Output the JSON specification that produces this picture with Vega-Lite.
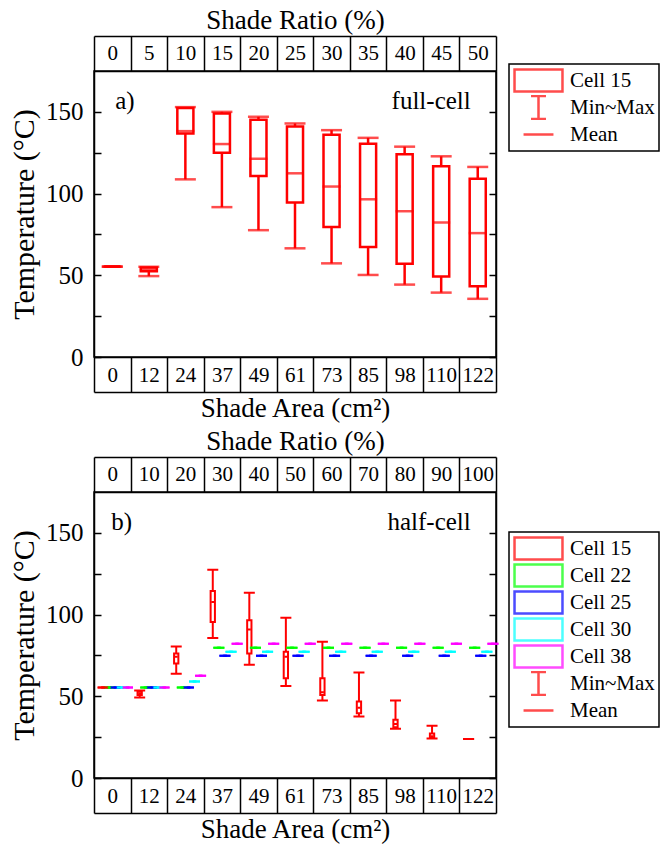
{
  "$schema": "https://vega.github.io/schema/vega-lite/v6.json",
  "padding": {"left": 8, "top": 5, "right": 2, "bottom": 2},
  "spacing": 4,
  "datasets": {
    "a": [
      {"area": 0, "ratio": 0, "min": 55.3, "q1": 55.3, "mean": 55.3, "q3": 55.3, "max": 55.3},
      {"area": 12, "ratio": 5, "min": 49.5, "q1": 52.5, "mean": 53.5, "q3": 54.8, "max": 55.2},
      {"area": 24, "ratio": 10, "min": 108.7, "q1": 136.8, "mean": 138.2, "q3": 152.4, "max": 152.9},
      {"area": 37, "ratio": 15, "min": 91.7, "q1": 125.0, "mean": 130.3, "q3": 149.0, "max": 150.0},
      {"area": 49, "ratio": 20, "min": 77.6, "q1": 110.8, "mean": 121.3, "q3": 145.1, "max": 147.0},
      {"area": 61, "ratio": 25, "min": 66.5, "q1": 94.5, "mean": 112.4, "q3": 141.0, "max": 142.9},
      {"area": 73, "ratio": 30, "min": 57.3, "q1": 79.5, "mean": 104.3, "q3": 136.0, "max": 138.8},
      {"area": 85, "ratio": 35, "min": 50.2, "q1": 67.3, "mean": 96.5, "q3": 130.5, "max": 134.1},
      {"area": 98, "ratio": 40, "min": 44.3, "q1": 57.1, "mean": 89.2, "q3": 124.0, "max": 128.7},
      {"area": 110, "ratio": 45, "min": 39.4, "q1": 49.2, "mean": 82.3, "q3": 116.7, "max": 122.8},
      {"area": 122, "ratio": 50, "min": 35.6, "q1": 43.3, "mean": 75.8, "q3": 109.0, "max": 116.3}
    ],
    "b": [
      {"cell": "Cell 22", "area": 0, "ratio": 0, "min": 55.3, "q1": 55.3, "mean": 55.3, "q3": 55.3, "max": 55.3},
      {"cell": "Cell 22", "area": 12, "ratio": 10, "min": 55.3, "q1": 55.3, "mean": 55.3, "q3": 55.3, "max": 55.3},
      {"cell": "Cell 22", "area": 24, "ratio": 20, "min": 55.3, "q1": 55.3, "mean": 55.3, "q3": 55.3, "max": 55.3},
      {"cell": "Cell 22", "area": 37, "ratio": 30, "min": 79.7, "q1": 79.7, "mean": 79.7, "q3": 79.7, "max": 79.7},
      {"cell": "Cell 22", "area": 49, "ratio": 40, "min": 79.7, "q1": 79.7, "mean": 79.7, "q3": 79.7, "max": 79.7},
      {"cell": "Cell 22", "area": 61, "ratio": 50, "min": 79.7, "q1": 79.7, "mean": 79.7, "q3": 79.7, "max": 79.7},
      {"cell": "Cell 22", "area": 73, "ratio": 60, "min": 79.7, "q1": 79.7, "mean": 79.7, "q3": 79.7, "max": 79.7},
      {"cell": "Cell 22", "area": 85, "ratio": 70, "min": 79.7, "q1": 79.7, "mean": 79.7, "q3": 79.7, "max": 79.7},
      {"cell": "Cell 22", "area": 98, "ratio": 80, "min": 79.7, "q1": 79.7, "mean": 79.7, "q3": 79.7, "max": 79.7},
      {"cell": "Cell 22", "area": 110, "ratio": 90, "min": 79.7, "q1": 79.7, "mean": 79.7, "q3": 79.7, "max": 79.7},
      {"cell": "Cell 22", "area": 122, "ratio": 100, "min": 79.7, "q1": 79.7, "mean": 79.7, "q3": 79.7, "max": 79.7},
      {"cell": "Cell 25", "area": 0, "ratio": 0, "min": 55.3, "q1": 55.3, "mean": 55.3, "q3": 55.3, "max": 55.3},
      {"cell": "Cell 25", "area": 12, "ratio": 10, "min": 55.3, "q1": 55.3, "mean": 55.3, "q3": 55.3, "max": 55.3},
      {"cell": "Cell 25", "area": 24, "ratio": 20, "min": 55.3, "q1": 55.3, "mean": 55.3, "q3": 55.3, "max": 55.3},
      {"cell": "Cell 25", "area": 37, "ratio": 30, "min": 74.8, "q1": 74.8, "mean": 74.8, "q3": 74.8, "max": 74.8},
      {"cell": "Cell 25", "area": 49, "ratio": 40, "min": 74.8, "q1": 74.8, "mean": 74.8, "q3": 74.8, "max": 74.8},
      {"cell": "Cell 25", "area": 61, "ratio": 50, "min": 74.8, "q1": 74.8, "mean": 74.8, "q3": 74.8, "max": 74.8},
      {"cell": "Cell 25", "area": 73, "ratio": 60, "min": 74.8, "q1": 74.8, "mean": 74.8, "q3": 74.8, "max": 74.8},
      {"cell": "Cell 25", "area": 85, "ratio": 70, "min": 74.8, "q1": 74.8, "mean": 74.8, "q3": 74.8, "max": 74.8},
      {"cell": "Cell 25", "area": 98, "ratio": 80, "min": 74.8, "q1": 74.8, "mean": 74.8, "q3": 74.8, "max": 74.8},
      {"cell": "Cell 25", "area": 110, "ratio": 90, "min": 74.8, "q1": 74.8, "mean": 74.8, "q3": 74.8, "max": 74.8},
      {"cell": "Cell 25", "area": 122, "ratio": 100, "min": 74.8, "q1": 74.8, "mean": 74.8, "q3": 74.8, "max": 74.8},
      {"cell": "Cell 30", "area": 0, "ratio": 0, "min": 55.3, "q1": 55.3, "mean": 55.3, "q3": 55.3, "max": 55.3},
      {"cell": "Cell 30", "area": 12, "ratio": 10, "min": 55.3, "q1": 55.3, "mean": 55.3, "q3": 55.3, "max": 55.3},
      {"cell": "Cell 30", "area": 24, "ratio": 20, "min": 59.0, "q1": 59.0, "mean": 59.0, "q3": 59.0, "max": 59.0},
      {"cell": "Cell 30", "area": 37, "ratio": 30, "min": 77.2, "q1": 77.2, "mean": 77.2, "q3": 77.2, "max": 77.2},
      {"cell": "Cell 30", "area": 49, "ratio": 40, "min": 77.2, "q1": 77.2, "mean": 77.2, "q3": 77.2, "max": 77.2},
      {"cell": "Cell 30", "area": 61, "ratio": 50, "min": 77.2, "q1": 77.2, "mean": 77.2, "q3": 77.2, "max": 77.2},
      {"cell": "Cell 30", "area": 73, "ratio": 60, "min": 77.2, "q1": 77.2, "mean": 77.2, "q3": 77.2, "max": 77.2},
      {"cell": "Cell 30", "area": 85, "ratio": 70, "min": 77.2, "q1": 77.2, "mean": 77.2, "q3": 77.2, "max": 77.2},
      {"cell": "Cell 30", "area": 98, "ratio": 80, "min": 77.2, "q1": 77.2, "mean": 77.2, "q3": 77.2, "max": 77.2},
      {"cell": "Cell 30", "area": 110, "ratio": 90, "min": 77.2, "q1": 77.2, "mean": 77.2, "q3": 77.2, "max": 77.2},
      {"cell": "Cell 30", "area": 122, "ratio": 100, "min": 77.2, "q1": 77.2, "mean": 77.2, "q3": 77.2, "max": 77.2},
      {"cell": "Cell 38", "area": 0, "ratio": 0, "min": 55.3, "q1": 55.3, "mean": 55.3, "q3": 55.3, "max": 55.3},
      {"cell": "Cell 38", "area": 12, "ratio": 10, "min": 55.3, "q1": 55.3, "mean": 55.3, "q3": 55.3, "max": 55.3},
      {"cell": "Cell 38", "area": 24, "ratio": 20, "min": 62.6, "q1": 62.6, "mean": 62.6, "q3": 62.6, "max": 62.6},
      {"cell": "Cell 38", "area": 37, "ratio": 30, "min": 82.1, "q1": 82.1, "mean": 82.1, "q3": 82.1, "max": 82.1},
      {"cell": "Cell 38", "area": 49, "ratio": 40, "min": 82.1, "q1": 82.1, "mean": 82.1, "q3": 82.1, "max": 82.1},
      {"cell": "Cell 38", "area": 61, "ratio": 50, "min": 82.1, "q1": 82.1, "mean": 82.1, "q3": 82.1, "max": 82.1},
      {"cell": "Cell 38", "area": 73, "ratio": 60, "min": 82.1, "q1": 82.1, "mean": 82.1, "q3": 82.1, "max": 82.1},
      {"cell": "Cell 38", "area": 85, "ratio": 70, "min": 82.1, "q1": 82.1, "mean": 82.1, "q3": 82.1, "max": 82.1},
      {"cell": "Cell 38", "area": 98, "ratio": 80, "min": 82.1, "q1": 82.1, "mean": 82.1, "q3": 82.1, "max": 82.1},
      {"cell": "Cell 38", "area": 110, "ratio": 90, "min": 82.1, "q1": 82.1, "mean": 82.1, "q3": 82.1, "max": 82.1},
      {"cell": "Cell 38", "area": 122, "ratio": 100, "min": 82.1, "q1": 82.1, "mean": 82.1, "q3": 82.1, "max": 82.1},
      {"cell": "Cell 15", "area": 0, "ratio": 0, "min": 55.3, "q1": 55.3, "mean": 55.3, "q3": 55.3, "max": 55.3},
      {"cell": "Cell 15", "area": 12, "ratio": 10, "min": 49.2, "q1": 50.8, "mean": 51.8, "q3": 53.0, "max": 53.5},
      {"cell": "Cell 15", "area": 24, "ratio": 20, "min": 63.8, "q1": 70.1, "mean": 74.2, "q3": 76.2, "max": 80.5},
      {"cell": "Cell 15", "area": 37, "ratio": 30, "min": 85.6, "q1": 95.5, "mean": 107.7, "q3": 114.4, "max": 127.4},
      {"cell": "Cell 15", "area": 49, "ratio": 40, "min": 69.3, "q1": 76.2, "mean": 90.9, "q3": 96.5, "max": 113.4},
      {"cell": "Cell 15", "area": 61, "ratio": 50, "min": 56.3, "q1": 61.0, "mean": 74.2, "q3": 77.2, "max": 98.0},
      {"cell": "Cell 15", "area": 73, "ratio": 60, "min": 47.4, "q1": 50.8, "mean": 52.5, "q3": 61.0, "max": 83.3},
      {"cell": "Cell 15", "area": 85, "ratio": 70, "min": 37.6, "q1": 39.6, "mean": 43.0, "q3": 46.8, "max": 64.6},
      {"cell": "Cell 15", "area": 98, "ratio": 80, "min": 30.1, "q1": 31.1, "mean": 33.0, "q3": 35.6, "max": 47.4},
      {"cell": "Cell 15", "area": 110, "ratio": 90, "min": 24.2, "q1": 24.6, "mean": 25.5, "q3": 27.2, "max": 31.9},
      {"cell": "Cell 15", "area": 122, "ratio": 100, "min": 23.8, "q1": 23.8, "mean": 23.8, "q3": 23.8, "max": 23.8}
    ]
  },
  "vconcat": [
    {
      "width": 402,
      "height": 286,
      "data": {"name": "a"},
      "layer": [
        {"mark": {"type": "rule", "color": "#ff0000", "strokeWidth": 2.5},
         "encoding": {"x": {"field": "area", "type": "ordinal", "scale": {"paddingInner": 0, "paddingOuter": 0}, "axis": null},
                      "y": {"field": "min", "type": "quantitative", "scale": {"domain": [0, 175], "nice": false}, "axis": null}, "y2": {"field": "q1"}}},
        {"mark": {"type": "rule", "color": "#ff0000", "strokeWidth": 2.5},
         "encoding": {"x": {"field": "area", "type": "ordinal", "scale": {"paddingInner": 0, "paddingOuter": 0}, "axis": null},
                      "y": {"field": "q3", "type": "quantitative", "scale": {"domain": [0, 175], "nice": false}, "axis": null}, "y2": {"field": "max"}}},
        {"mark": {"type": "bar", "filled": false, "color": "#ff0000", "strokeWidth": 2.5, "width": {"band": 0.44}},
         "encoding": {"x": {"field": "area", "type": "ordinal", "scale": {"paddingInner": 0, "paddingOuter": 0}, "axis": null},
                      "y": {"field": "q1", "type": "quantitative", "scale": {"domain": [0, 175], "nice": false}, "axis": null}, "y2": {"field": "q3"}}},
        {"mark": {"type": "tick", "color": "#ff0000", "thickness": 2.5, "size": 21},
         "encoding": {"x": {"field": "area", "type": "ordinal", "scale": {"paddingInner": 0, "paddingOuter": 0}, "axis": null},
                      "y": {"field": "min", "type": "quantitative", "scale": {"domain": [0, 175], "nice": false}, "axis": null}}},
        {"mark": {"type": "tick", "color": "#ff0000", "thickness": 2.5, "size": 21},
         "encoding": {"x": {"field": "area", "type": "ordinal", "scale": {"paddingInner": 0, "paddingOuter": 0}, "axis": null},
                      "y": {"field": "max", "type": "quantitative", "scale": {"domain": [0, 175], "nice": false}, "axis": null}}},
        {"mark": {"type": "tick", "color": "#ff0000", "thickness": 2.5, "size": 18},
         "encoding": {"x": {"field": "area", "type": "ordinal", "scale": {"paddingInner": 0, "paddingOuter": 0}, "axis": null},
                      "y": {"field": "mean", "type": "quantitative", "scale": {"domain": [0, 175], "nice": false}, "axis": null}}},
        {"data": {"values": [{"note": "a)", "area": 0, "v": 152}]},
         "mark": {"type": "text", "align": "left", "baseline": "alphabetic", "fontSize": 25, "color": "black", "dx": 3},
         "encoding": {"x": {"field": "area", "type": "ordinal", "scale": {"domain": [0, 12, 24, 37, 49, 61, 73, 85, 98, 110, 122], "paddingInner": 0, "paddingOuter": 0}, "axis": null},
                      "y": {"field": "v", "type": "quantitative", "scale": {"domain": [0, 175], "nice": false}, "axis": null},
                      "text": {"field": "note"}}},
        {"data": {"values": [{"note": "full-cell", "area": 122, "v": 152}]},
         "mark": {"type": "text", "align": "right", "baseline": "alphabetic", "fontSize": 25, "color": "black", "dx": -7},
         "encoding": {"x": {"field": "area", "type": "ordinal", "scale": {"domain": [0, 12, 24, 37, 49, 61, 73, 85, 98, 110, 122], "paddingInner": 0, "paddingOuter": 0}, "axis": null},
                      "y": {"field": "v", "type": "quantitative", "scale": {"domain": [0, 175], "nice": false}, "axis": null},
                      "text": {"field": "note"}}},
        {"mark": {"type": "point", "opacity": 0},
         "encoding": {"x": {"field": "area", "type": "ordinal", "scale": {"paddingInner": 0, "paddingOuter": 0},
           "axis": {"orient": "bottom", "tickBand": "extent", "tickSize": 35, "labelPadding": -17, "labelBaseline": "middle", "labelAngle": 0, "labelFontSize": 21, "title": null}},
           "y": {"field": "mean", "type": "quantitative", "scale": {"domain": [0, 175], "nice": false}, "axis": null}}},
        {"mark": {"type": "point", "opacity": 0},
         "encoding": {"x": {"field": "area", "type": "ordinal", "scale": {"paddingInner": 0, "paddingOuter": 0},
           "axis": {"orient": "bottom", "offset": 35, "ticks": false, "labels": false, "title": "Shade Area (cm²)", "titleFontSize": 27, "titlePadding": 3}},
           "y": {"field": "mean", "type": "quantitative", "scale": {"domain": [0, 175], "nice": false}, "axis": null}}},
        {"mark": {"type": "point", "opacity": 0},
         "encoding": {"x": {"field": "ratio", "type": "ordinal", "scale": {"paddingInner": 0, "paddingOuter": 0},
           "axis": {"orient": "top", "tickBand": "extent", "tickSize": 35, "labelPadding": -17, "labelBaseline": "middle", "labelAngle": 0, "labelFontSize": 21, "title": null}},
           "y": {"field": "mean", "type": "quantitative", "scale": {"domain": [0, 175], "nice": false}, "axis": null}}},
        {"mark": {"type": "point", "opacity": 0},
         "encoding": {"x": {"field": "ratio", "type": "ordinal", "scale": {"paddingInner": 0, "paddingOuter": 0},
           "axis": {"orient": "top", "offset": 35, "ticks": false, "labels": false, "title": "Shade Ratio (%)", "titleFontSize": 27, "titlePadding": 2}},
           "y": {"field": "mean", "type": "quantitative", "scale": {"domain": [0, 175], "nice": false}, "axis": null}}},
        {"mark": {"type": "point", "opacity": 0},
         "encoding": {"x": {"field": "area", "type": "ordinal", "scale": {"paddingInner": 0, "paddingOuter": 0}, "axis": null},
           "y": {"field": "mean", "type": "quantitative", "scale": {"domain": [0, 175], "nice": false},
           "axis": {"orient": "left", "values": [0, 25, 50, 75, 100, 125, 150], "labelExpr": "datum.value % 50 === 0 ? datum.label : ''", "tickSize": -7, "labelPadding": 18, "labelFontSize": 25, "title": "Temperature (°C)", "titleFontSize": 30, "titlePadding": 6}}}},
        {"mark": {"type": "point", "opacity": 0},
         "encoding": {"x": {"field": "area", "type": "ordinal", "scale": {"paddingInner": 0, "paddingOuter": 0}, "axis": null},
           "y": {"field": "mean", "type": "quantitative", "scale": {"domain": [0, 175], "nice": false},
           "axis": {"orient": "right", "values": [0, 25, 50, 75, 100, 125, 150], "labels": false, "tickSize": -7, "title": null}}}},
        {"data": {"values": [{"entry": "Cell 15"}, {"entry": "Min~Max"}, {"entry": "Mean"}]},
         "mark": {"type": "point", "filled": false, "clip": true},
         "encoding": {
           "y": {"datum": -100, "type": "quantitative", "scale": {"domain": [0, 175], "nice": false}, "axis": null},
           "stroke": {"field": "entry", "type": "nominal",
             "scale": {"domain": ["Cell 15", "Min~Max", "Mean"], "range": ["#ff0000", "#ff0000", "#ff0000"]},
             "legend": {"orient": "none", "legendX": 415, "legendY": -7, "title": null}},
           "shape": {"field": "entry", "type": "nominal",
             "scale": {"domain": ["Cell 15", "Min~Max", "Mean"], "range": ["M-2.18,-1H2.18V1H-2.18Z", "M-0.68,-1.05H0.68M0,-1.05V1.05M-0.68,1.05H0.68", "M-1.36,0H1.36"]},
             "legend": {"orient": "none", "legendX": 415, "legendY": -7, "title": null}}}}
      ],
      "resolve": {"scale": {"x": "independent", "y": "independent"}}
    },
    {
      "width": 402,
      "height": 286,
      "data": {"name": "b"},
      "layer": [
        {"mark": {"type": "bar", "width": 2},
         "encoding": {"x": {"field": "area", "type": "ordinal", "scale": {"paddingInner": 0, "paddingOuter": 0}, "axis": null},
                      "xOffset": {"field": "cell", "type": "nominal", "scale": {"domain": ["Cell 15", "Cell 22", "Cell 25", "Cell 30", "Cell 38"], "paddingInner": 0, "paddingOuter": 0.5, "align": 1}},
                      "color": {"field": "cell", "type": "nominal", "scale": {"domain": ["Cell 15", "Cell 22", "Cell 25", "Cell 30", "Cell 38"], "range": ["#ff0000", "#00ff00", "#0000ff", "#00ffff", "#ff00ff"]}, "legend": null},
                      "y": {"field": "min", "type": "quantitative", "scale": {"domain": [0, 175], "nice": false}, "axis": null}, "y2": {"field": "q1"}}},
        {"mark": {"type": "bar", "width": 2},
         "encoding": {"x": {"field": "area", "type": "ordinal", "scale": {"paddingInner": 0, "paddingOuter": 0}, "axis": null},
                      "xOffset": {"field": "cell", "type": "nominal", "scale": {"domain": ["Cell 15", "Cell 22", "Cell 25", "Cell 30", "Cell 38"], "paddingInner": 0, "paddingOuter": 0.5, "align": 1}},
                      "color": {"field": "cell", "type": "nominal", "legend": null},
                      "y": {"field": "q3", "type": "quantitative", "scale": {"domain": [0, 175], "nice": false}, "axis": null}, "y2": {"field": "max"}}},
        {"mark": {"type": "bar", "filled": false, "strokeWidth": 2, "width": 4.3},
         "encoding": {"x": {"field": "area", "type": "ordinal", "scale": {"paddingInner": 0, "paddingOuter": 0}, "axis": null},
                      "xOffset": {"field": "cell", "type": "nominal", "scale": {"domain": ["Cell 15", "Cell 22", "Cell 25", "Cell 30", "Cell 38"], "paddingInner": 0, "paddingOuter": 0.5, "align": 1}},
                      "color": {"field": "cell", "type": "nominal", "legend": null},
                      "y": {"field": "q1", "type": "quantitative", "scale": {"domain": [0, 175], "nice": false}, "axis": null}, "y2": {"field": "q3"}}},
        {"mark": {"type": "bar", "filled": false, "strokeWidth": 2, "width": 11},
         "encoding": {"x": {"field": "area", "type": "ordinal", "scale": {"paddingInner": 0, "paddingOuter": 0}, "axis": null},
                      "xOffset": {"field": "cell", "type": "nominal", "scale": {"domain": ["Cell 15", "Cell 22", "Cell 25", "Cell 30", "Cell 38"], "paddingInner": 0, "paddingOuter": 0.5, "align": 1}},
                      "color": {"field": "cell", "type": "nominal", "legend": null},
                      "y": {"field": "min", "type": "quantitative", "scale": {"domain": [0, 175], "nice": false}, "axis": null}, "y2": {"field": "min"}}},
        {"mark": {"type": "bar", "filled": false, "strokeWidth": 2, "width": 11},
         "encoding": {"x": {"field": "area", "type": "ordinal", "scale": {"paddingInner": 0, "paddingOuter": 0}, "axis": null},
                      "xOffset": {"field": "cell", "type": "nominal", "scale": {"domain": ["Cell 15", "Cell 22", "Cell 25", "Cell 30", "Cell 38"], "paddingInner": 0, "paddingOuter": 0.5, "align": 1}},
                      "color": {"field": "cell", "type": "nominal", "legend": null},
                      "y": {"field": "max", "type": "quantitative", "scale": {"domain": [0, 175], "nice": false}, "axis": null}, "y2": {"field": "max"}}},
        {"mark": {"type": "bar", "filled": false, "strokeWidth": 2, "width": 3},
         "encoding": {"x": {"field": "area", "type": "ordinal", "scale": {"paddingInner": 0, "paddingOuter": 0}, "axis": null},
                      "xOffset": {"field": "cell", "type": "nominal", "scale": {"domain": ["Cell 15", "Cell 22", "Cell 25", "Cell 30", "Cell 38"], "paddingInner": 0, "paddingOuter": 0.5, "align": 1}},
                      "color": {"field": "cell", "type": "nominal", "legend": null},
                      "y": {"field": "mean", "type": "quantitative", "scale": {"domain": [0, 175], "nice": false}, "axis": null}, "y2": {"field": "mean"}}},
        {"data": {"values": [{"note": "b)", "area": 0, "v": 152}]},
         "mark": {"type": "text", "align": "left", "baseline": "alphabetic", "fontSize": 25, "color": "black", "dx": -1},
         "encoding": {"x": {"field": "area", "type": "ordinal", "scale": {"domain": [0, 12, 24, 37, 49, 61, 73, 85, 98, 110, 122], "paddingInner": 0, "paddingOuter": 0}, "axis": null},
                      "y": {"field": "v", "type": "quantitative", "scale": {"domain": [0, 175], "nice": false}, "axis": null},
                      "text": {"field": "note"}}},
        {"data": {"values": [{"note": "half-cell", "area": 122, "v": 152}]},
         "mark": {"type": "text", "align": "right", "baseline": "alphabetic", "fontSize": 25, "color": "black", "dx": -7},
         "encoding": {"x": {"field": "area", "type": "ordinal", "scale": {"domain": [0, 12, 24, 37, 49, 61, 73, 85, 98, 110, 122], "paddingInner": 0, "paddingOuter": 0}, "axis": null},
                      "y": {"field": "v", "type": "quantitative", "scale": {"domain": [0, 175], "nice": false}, "axis": null},
                      "text": {"field": "note"}}},
        {"mark": {"type": "point", "opacity": 0},
         "encoding": {"x": {"field": "area", "type": "ordinal", "scale": {"paddingInner": 0, "paddingOuter": 0},
           "axis": {"orient": "bottom", "tickBand": "extent", "tickSize": 35, "labelPadding": -17, "labelBaseline": "middle", "labelAngle": 0, "labelFontSize": 21, "title": null}},
           "y": {"field": "mean", "type": "quantitative", "scale": {"domain": [0, 175], "nice": false}, "axis": null}}},
        {"mark": {"type": "point", "opacity": 0},
         "encoding": {"x": {"field": "area", "type": "ordinal", "scale": {"paddingInner": 0, "paddingOuter": 0},
           "axis": {"orient": "bottom", "offset": 35, "ticks": false, "labels": false, "title": "Shade Area (cm²)", "titleFontSize": 27, "titlePadding": 3}},
           "y": {"field": "mean", "type": "quantitative", "scale": {"domain": [0, 175], "nice": false}, "axis": null}}},
        {"mark": {"type": "point", "opacity": 0},
         "encoding": {"x": {"field": "ratio", "type": "ordinal", "scale": {"paddingInner": 0, "paddingOuter": 0},
           "axis": {"orient": "top", "tickBand": "extent", "tickSize": 35, "labelPadding": -17, "labelBaseline": "middle", "labelAngle": 0, "labelFontSize": 21, "title": null}},
           "y": {"field": "mean", "type": "quantitative", "scale": {"domain": [0, 175], "nice": false}, "axis": null}}},
        {"mark": {"type": "point", "opacity": 0},
         "encoding": {"x": {"field": "ratio", "type": "ordinal", "scale": {"paddingInner": 0, "paddingOuter": 0},
           "axis": {"orient": "top", "offset": 35, "ticks": false, "labels": false, "title": "Shade Ratio (%)", "titleFontSize": 27, "titlePadding": 2}},
           "y": {"field": "mean", "type": "quantitative", "scale": {"domain": [0, 175], "nice": false}, "axis": null}}},
        {"mark": {"type": "point", "opacity": 0},
         "encoding": {"x": {"field": "area", "type": "ordinal", "scale": {"paddingInner": 0, "paddingOuter": 0}, "axis": null},
           "y": {"field": "mean", "type": "quantitative", "scale": {"domain": [0, 175], "nice": false},
           "axis": {"orient": "left", "values": [0, 25, 50, 75, 100, 125, 150], "labelExpr": "datum.value % 50 === 0 ? datum.label : ''", "tickSize": -7, "labelPadding": 18, "labelFontSize": 25, "title": "Temperature (°C)", "titleFontSize": 30, "titlePadding": 6}}}},
        {"mark": {"type": "point", "opacity": 0},
         "encoding": {"x": {"field": "area", "type": "ordinal", "scale": {"paddingInner": 0, "paddingOuter": 0}, "axis": null},
           "y": {"field": "mean", "type": "quantitative", "scale": {"domain": [0, 175], "nice": false},
           "axis": {"orient": "right", "values": [0, 25, 50, 75, 100, 125, 150], "labels": false, "tickSize": -7, "title": null}}}},
        {"data": {"values": [{"entry": "Cell 15"}, {"entry": "Cell 22"}, {"entry": "Cell 25"}, {"entry": "Cell 30"}, {"entry": "Cell 38"}, {"entry": "Min~Max"}, {"entry": "Mean"}]},
         "mark": {"type": "point", "filled": false, "clip": true},
         "encoding": {
           "y": {"datum": -100, "type": "quantitative", "scale": {"domain": [0, 175], "nice": false}, "axis": null},
           "stroke": {"field": "entry", "type": "nominal",
             "scale": {"domain": ["Cell 15", "Cell 22", "Cell 25", "Cell 30", "Cell 38", "Min~Max", "Mean"], "range": ["#ff0000", "#00ff00", "#0000ff", "#00ffff", "#ff00ff", "#ff0000", "#ff0000"]},
             "legend": {"orient": "none", "legendX": 415, "legendY": 40, "title": null}},
           "shape": {"field": "entry", "type": "nominal",
             "scale": {"domain": ["Cell 15", "Cell 22", "Cell 25", "Cell 30", "Cell 38", "Min~Max", "Mean"], "range": ["M-2.18,-1H2.18V1H-2.18Z", "M-2.18,-1H2.18V1H-2.18Z", "M-2.18,-1H2.18V1H-2.18Z", "M-2.18,-1H2.18V1H-2.18Z", "M-2.18,-1H2.18V1H-2.18Z", "M-0.68,-1.05H0.68M0,-1.05V1.05M-0.68,1.05H0.68", "M-1.36,0H1.36"]},
             "legend": {"orient": "none", "legendX": 415, "legendY": 40, "title": null}}}}
      ],
      "resolve": {"scale": {"x": "independent", "y": "independent"}}
    }
  ],
  "resolve": {"scale": {"stroke": "independent", "shape": "independent", "color": "independent"}},
  "config": {
    "font": "Liberation Serif",
    "view": {"stroke": "black", "strokeWidth": 1.5},
    "axis": {"domainColor": "black", "domainWidth": 1.5, "tickColor": "black", "tickWidth": 1.5, "labelColor": "black", "titleColor": "black", "labelFont": "Liberation Serif", "titleFont": "Liberation Serif", "titleFontWeight": "normal", "grid": false},
    "legend": {"labelFont": "Liberation Serif", "labelColor": "black", "labelFontSize": 21, "strokeColor": "black", "strokeWidth": 1.5, "padding": 4, "symbolSize": 484, "symbolStrokeWidth": 2.5, "clipHeight": 25, "rowPadding": 2, "symbolOffset": 13, "labelOffset": 19}
  }
}
